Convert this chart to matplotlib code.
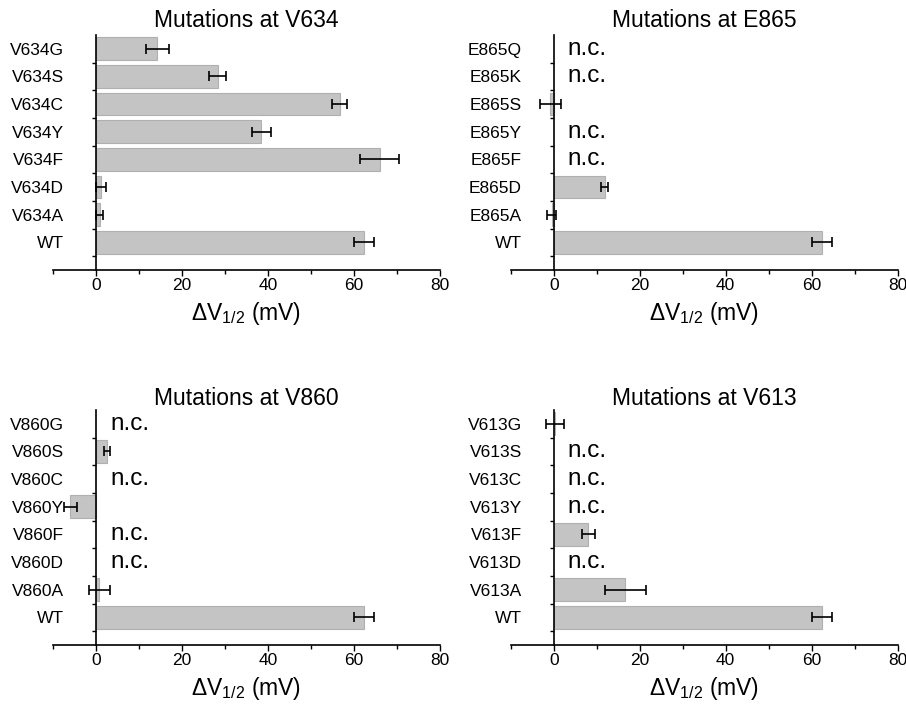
import numpy as np
import matplotlib
matplotlib.use('Agg')
import matplotlib.pyplot as plt
from matplotlib.ticker import FixedLocator

plt.rcParams['font.family'] = ['Liberation Sans', 'DejaVu Sans']
plt.rcParams['mathtext.fontset'] = 'custom'
plt.rcParams['mathtext.rm'] = 'Liberation Sans'
plt.rcParams['mathtext.it'] = 'Liberation Sans'

nan = np.nan

titles = ['Mutations at V634', 'Mutations at E865', 'Mutations at V860', 'Mutations at V613']

labels_v634 = ['V634G', 'V634S', 'V634C', 'V634Y', 'V634F', 'V634D', 'V634A', 'WT']
vals_v634 = [14.3, 28.3, 56.7, 38.5, 66.0, 1.2, 0.9, 62.4]
errs_v634 = [2.7, 2.0, 1.8, 2.3, 4.6, 1.1, 0.8, 2.3]

labels_e865 = ['E865Q', 'E865K', 'E865S', 'E865Y', 'E865F', 'E865D', 'E865A', 'WT']
vals_e865 = [nan, nan, -0.8, nan, nan, 11.9, -0.5, 62.4]
errs_e865 = [nan, nan, 2.5, nan, nan, 0.8, 1.1, 2.3]

labels_v860 = ['V860G', 'V860S', 'V860C', 'V860Y', 'V860F', 'V860D', 'V860A', 'WT']
vals_v860 = [nan, 2.5, nan, -6.0, nan, nan, 0.8, 62.4]
errs_v860 = [nan, 0.7, nan, 1.5, nan, nan, 2.5, 2.3]

labels_v613 = ['V613G', 'V613S', 'V613C', 'V613Y', 'V613F', 'V613D', 'V613A', 'WT']
vals_v613 = [0.3, nan, nan, nan, 8.0, nan, 16.7, 62.4]
errs_v613 = [2.0, nan, nan, nan, 1.5, nan, 4.7, 2.3]

panels = [(labels_v634, vals_v634, errs_v634),
          (labels_e865, vals_e865, errs_e865),
          (labels_v860, vals_v860, errs_v860),
          (labels_v613, vals_v613, errs_v613)]

fig = plt.figure(figsize=(9.06, 7.08), dpi=100)
rects = [[0.0585, 0.6186, 0.427, 0.332],
         [0.5637, 0.6186, 0.427, 0.332],
         [0.0585, 0.089, 0.427, 0.332],
         [0.5637, 0.089, 0.427, 0.332]]
pads = [6, 6, 1, 1]

for k in range(4):
    ax = fig.add_axes(rects[k])
    labs, vals, errs = panels[k]
    n = len(labs)
    y = np.arange(n, 0, -1)
    v = np.array(vals)
    e = np.array(errs)
    ok = ~np.isnan(v)
    ax.barh(y[ok], v[ok], height=0.82, color='#c4c4c4', edgecolor='#b0b0b0', linewidth=0.8, zorder=2)
    ax.errorbar(v[ok], y[ok], xerr=e[ok], fmt='none', ecolor='black', elinewidth=1.2,
                capsize=3.5, capthick=1.2, zorder=3)
    for yy in y[~ok]:
        ax.text(3.3, yy, 'n.c.', fontsize=17.5, va='center', ha='left')

    ax.set_xlim(-10, 80)
    ax.set_ylim(0, n + 0.5)
    ax.spines['top'].set_visible(False)
    ax.spines['right'].set_visible(False)
    ax.spines['left'].set_position(('data', 0))
    ax.spines['left'].set_linewidth(1.2)
    ax.spines['bottom'].set_linewidth(1.2)

    ax.set_yticks(y)
    ax.set_yticklabels(labs, fontsize=12.5)
    ax.yaxis.set_minor_locator(FixedLocator(np.arange(0.5, n, 1.0)))
    ax.tick_params(axis='y', which='major', length=0, pad=23)
    ax.tick_params(axis='y', which='minor', length=3, width=1.0, direction='out')

    ax.set_xticks([0, 20, 40, 60, 80])
    ax.xaxis.set_minor_locator(FixedLocator([-10, 10, 30, 50, 70]))
    ax.tick_params(axis='x', which='major', length=4, width=1.0, labelsize=12.5, pad=2)
    ax.tick_params(axis='x', which='minor', length=3, width=1.0)

    ax.set_xlabel(r'$\Delta$V$_{1/2}$ (mV)', fontsize=16.5, labelpad=5)
    ax.set_title(titles[k], fontsize=16.5, pad=pads[k])

plt.savefig('out.png', dpi=100)
